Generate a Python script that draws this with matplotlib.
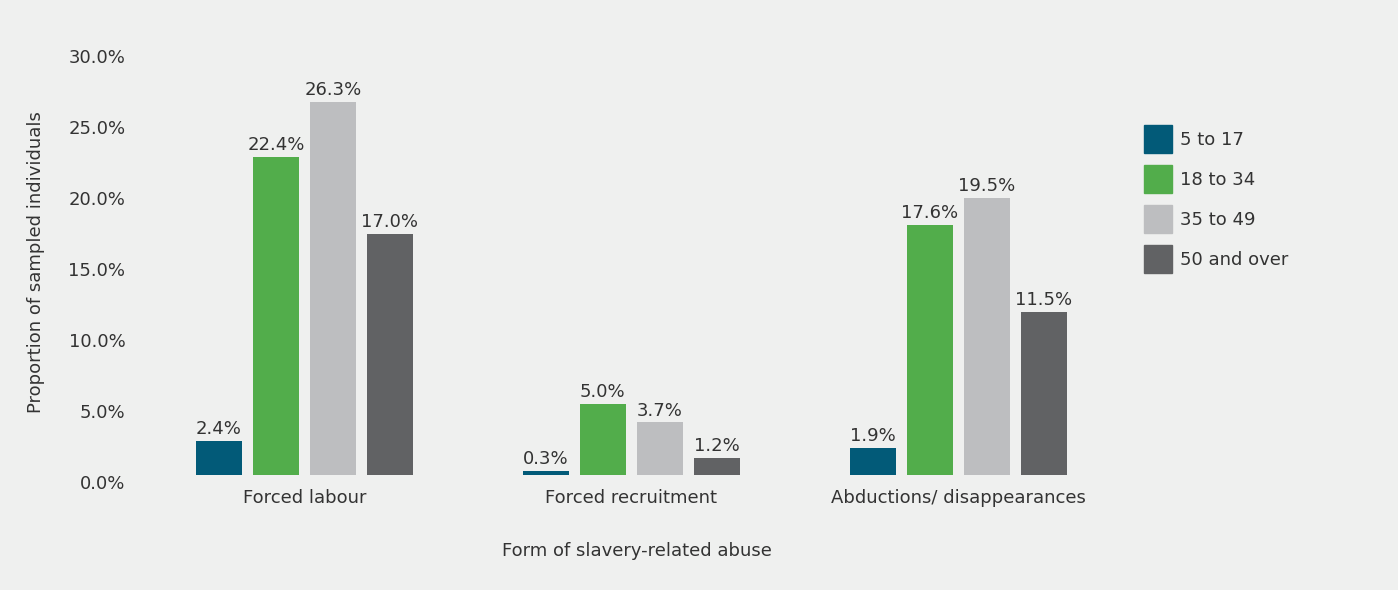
import numpy as np
import matplotlib.pyplot as plt
from matplotlib.patches import Patch

plt.rcParams['font.family'] = ['DejaVu Sans']

# Data
categories = ["Forced labour", "Forced recruitment", "Abductions/ disappearances"]
age_groups = ["5 to 17", "18 to 34", "35 to 49", "50 and over"]
age_5_17 = [2.4, 0.3, 1.9]
age_18_34 = [22.4, 5.0, 17.6]
age_35_49 = [26.3, 3.7, 19.5]
age_50_over = [17.0, 1.2, 11.5]
yticks = [0, 5, 10, 15, 20, 25, 30]

series = [age_5_17, age_18_34, age_35_49, age_50_over]
colors = ["#025a78", "#52ad4b", "#bdbec0", "#616264"]
bg = "#eff0ef"
txt = "#333333"
fs = 13

fig = plt.figure(figsize=(13.98, 5.9), dpi=100, facecolor=bg)
ax = fig.add_axes([0.0966, 0.1949, 0.7175, 0.7220], facecolor=bg)

x = np.arange(len(categories))
step = 0.1743
width = 0.1407
for i, (vals, c) in enumerate(zip(series, colors)):
    pos = x + (i - 1.5) * step
    bars = ax.bar(pos, vals, width, color=c, label=age_groups[i])
    for b, v in zip(bars, vals):
        ax.annotate(f"{v:.1f}%", (b.get_x() + b.get_width() / 2, v),
                    xytext=(0, 2), textcoords="offset points",
                    ha="center", va="bottom", fontsize=fs, color=txt)

ax.set_xlim(-0.518, 2.55)
ax.set_ylim(0, 30)
ax.set_yticks(yticks)
ax.set_yticklabels([f"{t:.1f}%" for t in yticks], fontsize=fs, color=txt)
for lab in ax.get_yticklabels():
    lab.set_va("top")
ax.set_xticks(x)
ax.set_xticklabels(categories, fontsize=fs, color=txt)
ax.tick_params(axis="both", length=0)
ax.tick_params(axis="x", pad=10)
ax.tick_params(axis="y", pad=7)
for s in ax.spines.values():
    s.set_visible(False)

ax.set_xlabel("Form of slavery-related abuse", fontsize=fs, color=txt, labelpad=25)
ax.set_ylabel("Proportion of sampled individuals", fontsize=fs, color=txt, labelpad=17)

handles = [Patch(color=c) for c in colors]
fig.legend(handles, age_groups, loc="upper left",
           bbox_to_anchor=(1144 / 1398, 1 - 125 / 590),
           frameon=False, fontsize=fs, borderpad=0, borderaxespad=0,
           handlelength=1.55, handleheight=2.01, labelspacing=0.66,
           handletextpad=0.45, labelcolor=txt)

fig.savefig("out.png", dpi=100, facecolor=bg)
